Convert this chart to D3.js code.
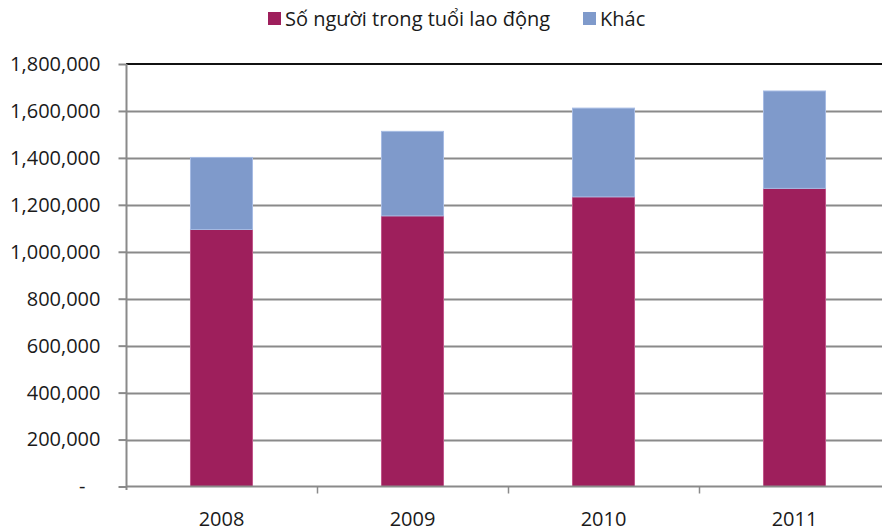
<!DOCTYPE html>
<html><head><meta charset="utf-8">
<script src="https://cdn.jsdelivr.net/npm/d3@7"></script>
<style>body{margin:0;background:#fff}svg{display:block}</style>
</head><body>
<svg id="c" width="882" height="531"></svg>
<script>
const categories = ["2008", "2009", "2010", "2011"];
const seriesNames = ["Số người trong tuổi lao động", "Khác"];
const working = [1095000, 1153000, 1234000, 1270000];
const other = [307000, 360000, 378000, 415000];
const yTicks = [0, 200000, 400000, 600000, 800000, 1000000, 1200000, 1400000, 1600000, 1800000];
const colors = ["#9E1F5C", "#7F9ACB"];
const strokes = ["#c0558a", "#a6bbe3"];

const svg = d3.select("#c");
const font = "'Open Sans', sans-serif";
const fs = 20;
const x = d3.scaleBand().domain(categories).range([126, 890]).paddingInner(0.67).paddingOuter(0.335);
const band = d3.scaleBand().domain(categories).range([126, 890]);
const y = d3.scaleLinear().domain([0, 1800000]).range([486.5, 64]);

// gridlines
svg.append("g").selectAll("line").data(yTicks.filter(d => d > 0 && d < 1800000)).join("line")
  .attr("x1", 126).attr("x2", 882).attr("y1", d => Math.round(y(d)) + 0.5).attr("y2", d => Math.round(y(d)) + 0.5)
  .attr("stroke", "#8a8a8a").attr("stroke-width", 2);
// top border
svg.append("line").attr("x1", 126).attr("x2", 882).attr("y1", 64).attr("y2", 64)
  .attr("stroke", "#111").attr("stroke-width", 2);

// bars
const stackData = categories.map((c, i) => ({cat: c, working: working[i], other: other[i]}));
const stack = d3.stack().keys(["working", "other"])(stackData);
svg.append("g").selectAll("g").data(stack).join("g")
  .attr("fill", (d, i) => colors[i]).attr("stroke", (d, i) => strokes[i]).attr("stroke-width", 1)
  .selectAll("rect").data(d => d).join("rect")
  .attr("x", d => x(d.data.cat) + 0.5).attr("width", x.bandwidth() - 1)
  .attr("y", d => y(d[1])).attr("height", d => y(d[0]) - y(d[1]));

// y axis
const yAxis = d3.axisLeft(y).tickValues(yTicks).tickSize(8).tickPadding(18)
  .tickFormat(d => d === 0 ? "-" : d3.format(",")(d));
const ya = svg.append("g").attr("transform", "translate(126.5,0)").call(yAxis);
ya.select(".domain").attr("stroke", "#8a8a8a").attr("stroke-width", 2).attr("d", "M0,64V490");
ya.selectAll(".tick line").attr("stroke", "#8a8a8a").attr("stroke-width", 2);
ya.selectAll("text").attr("font-family", font).attr("font-size", fs).attr("fill", "#1a1a1a");
ya.selectAll(".tick").filter(d => d === 0).select("text").attr("dx", -15);

// x axis
const xa = svg.append("g").attr("transform", "translate(0,486.5)");
xa.append("line").attr("x1", 126).attr("x2", 882).attr("y1", 0).attr("y2", 0).attr("stroke", "#8a8a8a").attr("stroke-width", 2);
xa.selectAll("line.tk").data(categories.slice(1)).join("line").attr("class", "tk")
  .attr("x1", d => Math.round(band(d)) + 0.5).attr("x2", d => Math.round(band(d)) + 0.5)
  .attr("y1", 0).attr("y2", 7).attr("stroke", "#8a8a8a").attr("stroke-width", 1.5);
xa.selectAll("text").data(categories).join("text")
  .attr("x", d => band(d) + band.bandwidth() / 2).attr("y", 39)
  .attr("text-anchor", "middle").attr("font-family", font).attr("font-size", fs).attr("fill", "#1a1a1a")
  .text(d => d);

// legend
const lg = svg.append("g");
const legendX = [268, 583];
seriesNames.forEach((n, i) => {
  lg.append("rect").attr("x", legendX[i]).attr("y", 12).attr("width", 13).attr("height", 13).attr("fill", colors[i]);
  lg.append("text").attr("x", legendX[i] + 17).attr("y", 26).attr("font-family", font).attr("font-size", fs)
    .attr("fill", "#1a1a1a").text(n);
});
</script>
</body></html>
